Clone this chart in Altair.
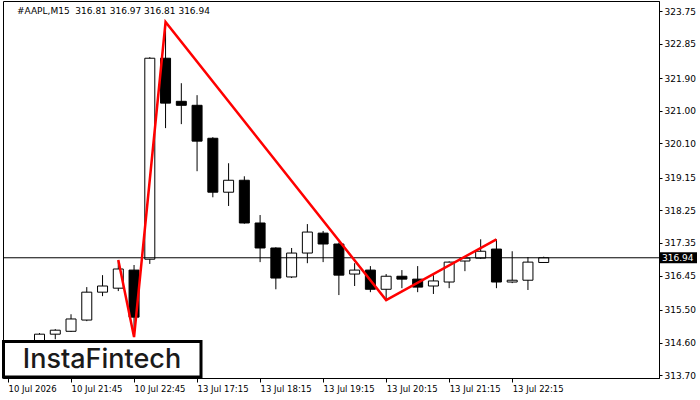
import altair as alt
import pandas as pd

# ---- data ----
bar_index = list(range(2, 35))
opens  = [314.62, 314.83, 314.91, 315.22, 315.99, 316.10, 316.60, 316.90, 322.45, 321.26,
          321.15, 320.24, 318.75, 319.08, 317.90, 317.21, 316.41, 317.07, 317.62, 317.32,
          316.49, 316.60, 316.07, 316.43, 316.35, 316.16, 316.27, 316.85, 316.93, 317.18,
          316.27, 316.32, 316.81]
highs  = [314.86, 314.97, 315.38, 316.13, 316.46, 316.88, 316.74, 322.48, 323.45, 321.76,
          321.43, 320.27, 319.55, 319.19, 318.12, 317.23, 317.21, 317.87, 317.68, 317.36,
          316.79, 316.71, 316.49, 316.60, 316.71, 316.46, 316.84, 316.96, 317.45, 317.45,
          317.12, 316.96, 316.97]
lows   = [314.55, 314.69, 314.89, 315.19, 315.88, 316.02, 314.75, 316.77, 320.52, 320.63,
          319.33, 318.61, 318.37, 317.88, 316.82, 316.07, 316.38, 316.79, 316.82, 315.91,
          316.16, 315.99, 315.77, 316.10, 315.99, 315.94, 316.10, 316.57, 316.91, 316.10,
          316.24, 316.05, 316.81]
closes = [314.83, 314.94, 315.25, 315.99, 316.16, 316.63, 315.30, 322.45, 321.21, 321.15,
          320.16, 318.75, 319.08, 317.90, 317.21, 316.38, 317.07, 317.65, 317.32, 316.46,
          316.60, 316.07, 316.43, 316.35, 316.13, 316.30, 316.82, 316.93, 317.12, 316.27,
          316.32, 316.82, 316.94]

pattern_index = [7, 8, 10, 24, 31]
pattern_price = [316.88, 314.75, 323.45, 315.77, 317.45]

x_tick_pos = [0, 4, 8, 12, 16, 20, 24, 28, 32]
x_tick_labels = ["10 Jul 2026", "10 Jul 21:45", "10 Jul 22:45", "13 Jul 17:15",
                 "13 Jul 18:15", "13 Jul 19:15", "13 Jul 20:15", "13 Jul 21:15",
                 "13 Jul 22:15"]
y_ticks = [323.75, 322.85, 321.90, 321.00, 320.10, 319.15, 318.25, 317.35,
           316.45, 315.50, 314.60, 313.70]

last_price = 316.94
title_text = "#AAPL,M15\u00a0 316.81 316.97 316.81 316.94"
logo_text = "InstaFintech"

# ---- build ----
df = pd.DataFrame({"i": bar_index, "o": opens, "h": highs, "l": lows, "c": closes})
df["dir"] = ["up" if c >= o else "down" for o, c in zip(opens, closes)]
pat = pd.DataFrame({"i": pattern_index, "p": pattern_price, "k": list(range(len(pattern_index)))})
last_df = pd.DataFrame({"p": [last_price], "t": [f"{last_price:.2f}"]})

W, H = 656, 377
xs = alt.Scale(domain=[0, 41], nice=False, zero=False)
ys = alt.Scale(domain=[313.62, 324.03], nice=False, zero=False)

label_expr = "[" + ",".join(f"'{t}'" for t in x_tick_labels) + "][round(datum.value/4)]"

x_axis = alt.Axis(values=x_tick_pos, labelExpr=label_expr, labelAlign="left",
                  tickCount=40, tickSize=4, tickColor="black", domainColor="black",
                  labelPadding=2, labelFont="DejaVu Sans", labelFontSize=8.5,
                  labelColor="black", grid=False, title=None, labelOverlap=False,
                  labelFlush=False)
y_axis = alt.Axis(orient="right", values=y_ticks, format=".2f", tickCount=40, tickSize=3,
                  tickColor="black", domainColor="black", labelPadding=2,
                  labelFont="DejaVu Sans", labelFontSize=9, labelColor="black",
                  grid=False, title=None, labelOverlap=False, labelFlush=False)

base = alt.Chart(df)

wicks = base.mark_rule(color="black", strokeWidth=1).encode(
    x=alt.X("i:Q", scale=xs, axis=x_axis),
    y=alt.Y("l:Q", scale=ys, axis=y_axis),
    y2="h:Q",
)
bodies = base.mark_bar(size=10, stroke="black", strokeWidth=1).encode(
    x=alt.X("i:Q", scale=xs, axis=x_axis),
    y=alt.Y("o:Q", scale=ys, axis=y_axis),
    y2="c:Q",
    color=alt.Color("dir:N", scale=alt.Scale(domain=["up", "down"], range=["white", "black"]), legend=None),
)

bid_line = alt.Chart(last_df).mark_rule(color="black", strokeWidth=1).encode(
    y=alt.Y("p:Q", scale=ys, axis=y_axis), x=alt.value(0), x2=alt.value(W)
)

pattern = alt.Chart(pat).mark_line(color="#ff0000", strokeWidth=2.5).encode(
    x=alt.X("i:Q", scale=xs, axis=x_axis), y=alt.Y("p:Q", scale=ys, axis=y_axis), order="k:Q"
)

price_box = alt.Chart(last_df).mark_rule(color="black", strokeWidth=11, strokeCap="butt").encode(
    y=alt.Y("p:Q", scale=ys, axis=y_axis), x=alt.value(W + 1), x2=alt.value(W + 38)
)
price_txt = alt.Chart(last_df).mark_text(color="white", align="left", baseline="middle",
                                         font="DejaVu Sans", fontSize=9).encode(
    y=alt.Y("p:Q", scale=ys, axis=y_axis), x=alt.value(W + 3), text="t:N"
)

title = alt.Chart(last_df).mark_text(align="left", baseline="middle", font="DejaVu Sans",
                                     fontSize=9, color="black").encode(
    x=alt.value(14), y=alt.value(10), text=alt.value(title_text)
)

logo_box = alt.Chart(last_df).mark_rect(fill="white", stroke="black", strokeWidth=3).encode(
    x=alt.value(0.5), x2=alt.value(198), y=alt.value(340.5), y2=alt.value(376)
)
logo = alt.Chart(last_df).mark_text(align="center", baseline="middle", font="Inter",
                                    fontSize=27, fontWeight=500, color="#1a1a1a").encode(
    x=alt.value(99), y=alt.value(359), text=alt.value(logo_text)
)

chart = alt.layer(wicks, bodies, bid_line, pattern, logo_box, logo, price_box, price_txt, title).properties(
    width=W, height=H,
    autosize=alt.AutoSizeParams(type="none"),
    padding={"left": 3, "top": 1, "right": 41, "bottom": 22},
    background="white",
).configure_view(stroke="black", strokeWidth=1)

chart.save("out.html", embed_options={"renderer": "svg", "actions": False})
